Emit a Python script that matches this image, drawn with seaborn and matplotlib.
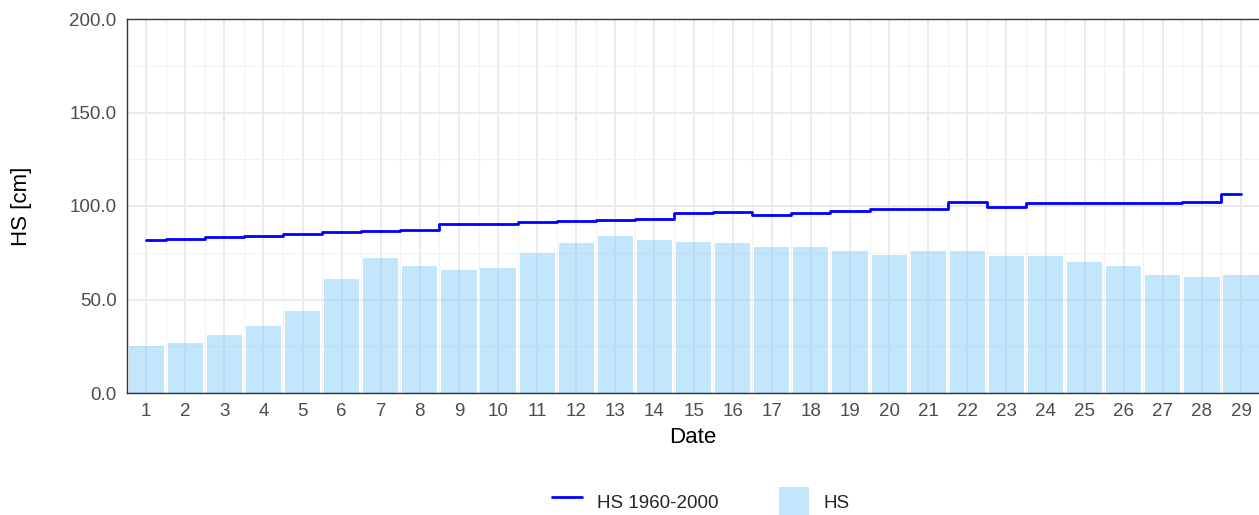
import numpy as np
import pandas as pd
import matplotlib
matplotlib.use("Agg")
import matplotlib.pyplot as plt
from matplotlib.lines import Line2D
from matplotlib.patches import Patch
from matplotlib.ticker import MultipleLocator, FormatStrFormatter
import seaborn as sns

# Datos
days = list(range(1, 30))
hs = [25, 27, 31, 36, 44, 61, 72, 68, 66, 67, 75, 80, 84, 82, 81, 80, 78, 78, 76, 74,
      76, 76, 73, 73, 70, 68, 63, 62, 63]
hs_1960_2000 = [82.0, 82.4, 83.4, 83.8, 84.8, 85.9, 86.8, 87.3, 90.2, 90.2, 91.3, 91.8,
                92.3, 93.0, 96.3, 96.8, 95.2, 96.1, 97.3, 98.2, 98.2, 102.1, 99.5, 101.8,
                101.8, 101.8, 101.4, 102.0, 106.6]
y_ticks = [0, 50, 100, 150, 200]

df = pd.DataFrame({"Date": days, "HS": hs, "HS_ref": hs_1960_2000})

sns.set_style("white")
plt.rcParams["font.family"] = ["Liberation Sans", "DejaVu Sans"]

fig = plt.figure(figsize=(12.59, 5.15), dpi=100)
ax = fig.add_axes([127 / 1259, (515 - 393) / 515, (1259 - 127) / 1259, (393 - 19) / 515])

bar_color = "#87CEFA"
sns.barplot(data=df, x="Date", y="HS", native_scale=True, width=0.9,
            color=bar_color, alpha=0.5, saturation=1, ax=ax, zorder=2, linewidth=0)
sns.lineplot(data=df, x="Date", y="HS_ref", color="#0000FF", linewidth=2,
             drawstyle="steps-mid", ax=ax, zorder=3)

ax.set_xlim(0.51, 29.46)
ax.set_ylim(0, 200)
ax.set_xticks(days)
ax.set_xticklabels([str(d) for d in days])
ax.set_xticks(np.arange(1.5, 29.5, 1), minor=True)
ax.set_yticks(y_ticks)
ax.yaxis.set_major_formatter(FormatStrFormatter("%.1f"))
ax.yaxis.set_minor_locator(MultipleLocator(25))

ax.grid(which="major", color="#EBEBEB", linewidth=1.4, zorder=0)
ax.grid(which="minor", color="#F2F2F2", linewidth=0.8, zorder=0)
ax.set_axisbelow(True)

ax.tick_params(axis="both", which="major", direction="out", length=4, width=1,
               color="#333333", labelcolor="#4D4D4D", labelsize=13.5)
ax.tick_params(axis="both", which="minor", length=0)
for s in ["left", "bottom", "top"]:
    ax.spines[s].set_color("#333333")
    ax.spines[s].set_linewidth(1)
ax.spines["right"].set_visible(False)

ax.set_xlabel("Date", fontsize=16, color="black", labelpad=5)
ax.set_ylabel("HS [cm]", fontsize=16, color="black", labelpad=27)

handles = [Line2D([0], [0], color="#0000FF", linewidth=2),
           Patch(facecolor=bar_color, alpha=0.5, edgecolor="none")]
fig.legend(handles, ["HS 1960-2000", "HS"], loc="lower center", ncol=2,
           bbox_to_anchor=(0.557, -0.035), frameon=False, fontsize=13.5,
           handlelength=1.6, handleheight=2.0, handletextpad=0.8, columnspacing=3.2)

fig.savefig("out.png", dpi=100)
